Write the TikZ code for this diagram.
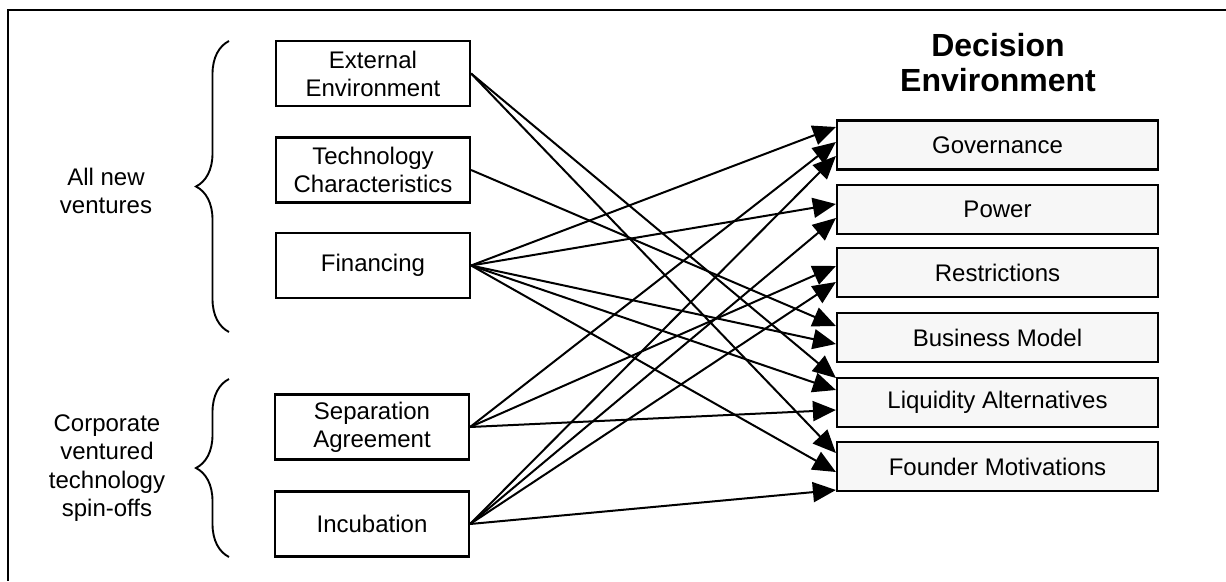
\documentclass[tikz,border=0pt]{standalone}
\usepackage{fontspec}
\setmainfont{Liberation Sans}
\usetikzlibrary{arrows.meta,decorations.pathreplacing}
\begin{document}
\begin{tikzpicture}[x=1pt,y=-1pt]
\tikzset{
  srcbox/.style={draw, line width=2.2pt, minimum width=194pt, minimum height=65pt,
    inner sep=0pt, align=center, font=\fontsize{24}{28}\selectfont},
  dstbox/.style={draw, line width=2.2pt, fill=black!3, minimum width=321pt,
    minimum height=49pt, inner sep=0pt, font=\fontsize{24}{28}\selectfont},
  link/.style={line width=2pt, -{Triangle[length=23pt,width=20pt]}},
  grp/.style={align=center, font=\fontsize{24}{28.3}\selectfont},
  curly/.style={line width=1.9pt, decorate, decoration={brace, amplitude=33pt}},
}
\useasboundingbox (0,0) rectangle (1226,581);
\fill[white] (0,0) rectangle (1226,581);

% frame
\draw[line width=2.2pt] (1226,10) -- (8,10) -- (8,581);

% group labels and braces
\node[grp] (allnew) at (106,191) {All new\\ventures};
\node[grp] (corp) at (107,468) {Corporate\\ventured\\technology\\spin-offs};
\draw[curly] (229,332) -- (229,41);
\draw[curly] (229,557) -- (229,379);

% source factors
\node[srcbox] (ext)  at (373,73.5) {External\\Environment};
\node[srcbox] (tech) at (373,170)  {Technology\\Characteristics};
\node[srcbox] (fin)  at (373,265.5){Financing};
\node[srcbox] (sep)  at (372,427)  {Separation\\Agreement};
\node[srcbox] (inc)  at (372,524)  {Incubation};

% decision environment
\node[align=center, inner sep=0pt, font=\fontsize{32}{35}\selectfont\bfseries]
  (title) at (998,63) {Decision\\Environment};
\node[dstbox] (gov) at (997.5,145)   {Governance};
\node[dstbox] (pow) at (997.5,209.5) {Power};
\node[dstbox] (res) at (997.5,272.5) {Restrictions};
\node[dstbox] (bm)  at (997.5,337.5) {Business Model};
\node[dstbox] (liq) at (997.5,402.5) {Liquidity Alternatives};
\node[dstbox] (fm)  at (997.5,466.5) {Founder Motivations};

% influences
\draw[link] (ext.east)  -- ([yshift=24.5pt]liq.west);
\draw[link] (ext.east)  -- ([yshift=13.5pt]fm.west);
\draw[link] (tech.east) -- ([yshift=11.5pt]bm.west);
\draw[link] (fin.east)  -- ([yshift=18pt]gov.west);
\draw[link] (fin.east)  -- ([yshift=5.5pt]pow.west);
\draw[link] (fin.east)  -- ([yshift=-6.5pt]bm.west);
\draw[link] (fin.east)  -- ([yshift=12.5pt]liq.west);
\draw[link] (fin.east)  -- ([yshift=-5.5pt]fm.west);
\draw[link] (sep.east)  -- ([yshift=3pt]gov.west);
\draw[link] (sep.east)  -- ([yshift=6.5pt]res.west);
\draw[link] (sep.east)  -- ([yshift=-7.5pt]liq.west);
\draw[link] (inc.east)  -- ([yshift=-11pt]gov.west);
\draw[link] (inc.east)  -- ([yshift=-8.5pt]pow.west);
\draw[link] (inc.east)  -- ([yshift=-9.5pt]res.west);
\draw[link] (inc.east)  -- ([yshift=-23.5pt]fm.west);
\end{tikzpicture}
\end{document}
